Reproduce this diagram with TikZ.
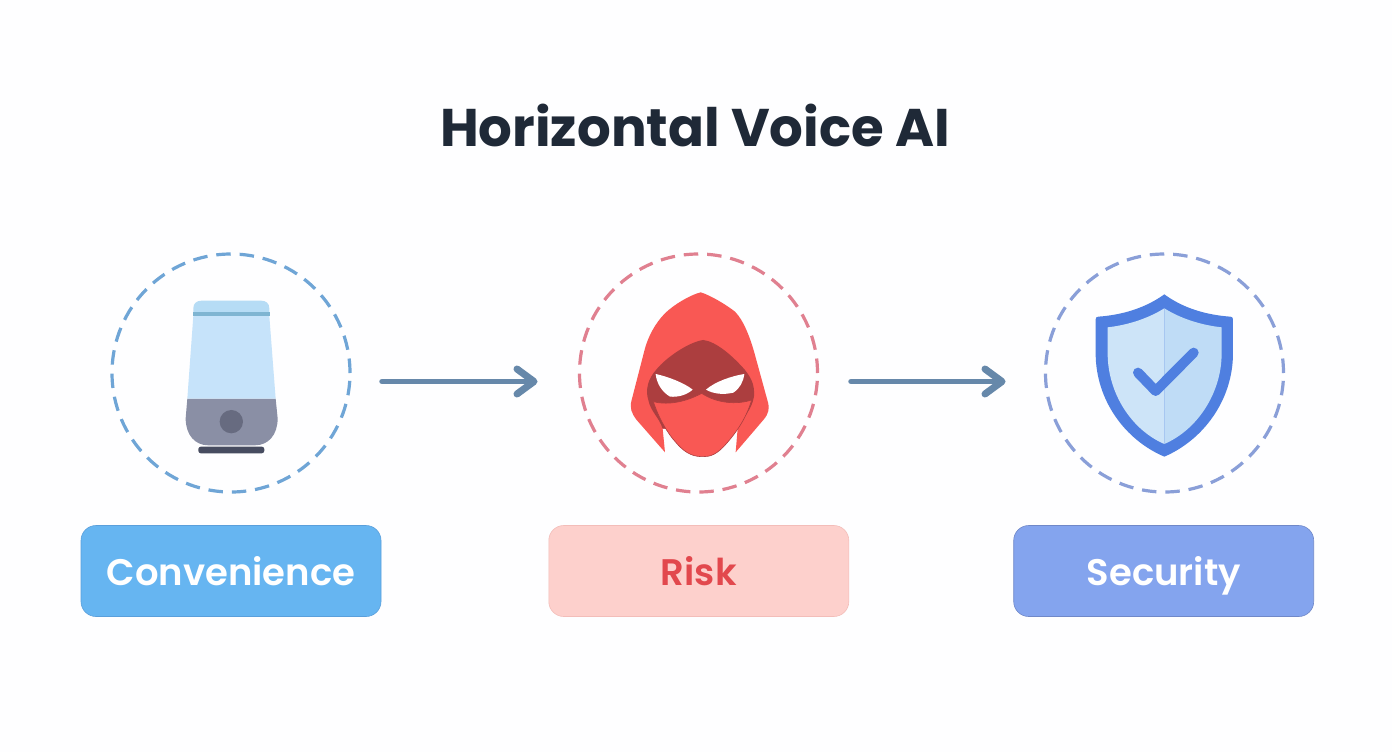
\documentclass[tikz,border=0pt]{standalone}
\usepackage{fontspec}
\setmainfont{Poppins}
\newfontfamily\tagfont{Poppins SemiBold}
\definecolor{inkdark}{HTML}{1F2937}
\definecolor{conv}{HTML}{66B5F1}
\definecolor{convline}{HTML}{6FA5D6}
\definecolor{convedge}{HTML}{5A9FDB}
\definecolor{riskbox}{HTML}{FDD0CC}
\definecolor{riskedge}{HTML}{F3BDB9}
\definecolor{risktext}{HTML}{E2484D}
\definecolor{riskline}{HTML}{E08090}
\definecolor{sec}{HTML}{84A4EE}
\definecolor{secedge}{HTML}{7088C8}
\definecolor{secline}{HTML}{8A9FD8}
\definecolor{arrowcol}{HTML}{6688AA}
\definecolor{hood}{HTML}{F95854}
\definecolor{hooddark}{HTML}{AC3E3F}
\definecolor{shield}{HTML}{4F7FE0}
\definecolor{shieldA}{HTML}{CDE4F8}
\definecolor{shieldB}{HTML}{BFDCF6}
\definecolor{glass}{HTML}{C6E3FA}
\definecolor{glasstop}{HTML}{B6DCF5}
\definecolor{band}{HTML}{7FB5D2}
\definecolor{grille}{HTML}{8A8FA5}
\definecolor{knob}{HTML}{676B80}
\definecolor{foot}{HTML}{474C60}
\tikzset{
  ring/.style={circle,draw=#1,line width=3.2pt,dash pattern=on 14.5pt off 8.9pt,minimum size=238pt,inner sep=0pt,outer sep=0pt},
  tag/.style={rounded corners=15pt,line width=0.6pt,minimum width=300pt,minimum height=91pt,inner sep=0pt,outer sep=0pt,text height=36pt,text depth=8pt,font=\tagfont\fontsize{37}{40}\selectfont},
  link/.style={arrowcol,line width=5.5pt,line cap=round,line join=round},
  linkhead/.style={arrowcol,line width=7pt,line cap=round,line join=round},
}
\begin{document}
\begin{tikzpicture}[x=1pt,y=-1pt]
\useasboundingbox (0,0) rectangle (1392,752);
\fill[white!60!blue!1!white] (0,0) rectangle (1392,752);

\node[text=inkdark,font=\bfseries\fontsize{53}{60}\selectfont] (title) at (695,125.5) {Horizontal Voice AI};

\node[ring=convline] (convring) at (231,373) {};
\node[ring=riskline] (riskring) at (698.5,373) {};
\node[ring=secline] (secring) at (1164.5,373) {};

\node[tag,fill=conv,draw=convedge,text=white] (convtag) at (231,571) {Convenience};
\node[tag,fill=riskbox,draw=riskedge,text=risktext] (risktag) at (698.8,571) {Risk};
\node[tag,fill=sec,draw=secedge,text=white] (sectag) at (1163.7,571) {Security};

% arrows
\coordinate (a1) at (382,381.5);
\coordinate (a2) at (534,381.5);
\coordinate (b1) at (851,381.5);
\coordinate (b2) at (1002,381.5);
\draw[link] (a1) -- (a2);
\draw[link] (b1) -- (b2);
\draw[linkhead] (517,369) -- (a2) -- (517,394);
\draw[linkhead] (985,369) -- (b2) -- (985,394);

% speaker
\begin{scope}[shift={(100,240)},x=0.3333pt,y=-0.3333pt]
\fill[foot,rounded corners=2.5pt] (295,620) rectangle (493,640);
\fill[grille] (262,476) -- (527,476) -- (533,535) .. controls (533,585) and (505,616) .. (465,616) -- (325,616) .. controls (285,616) and (257,585) .. (257,535) -- cycle;
\fill[glass] (280,228) -- (508,228) -- (527,476) -- (262,476) -- cycle;
\fill[glasstop] (280,216) -- (280,205) .. controls (280,190) and (290,182) .. (305,182) -- (483,182) .. controls (498,182) and (508,190) .. (508,205) -- (508,216) -- cycle;
\fill[band] (279,216) rectangle (509,228);
\fill[knob] (394,545) circle (35);
\end{scope}

% hood
\begin{scope}[shift={(570,240)},x=0.3333pt,y=-0.3333pt]
\fill[hood] (392,157) .. controls (360,165) and (310,195) .. (285,220) .. controls (255,250) and (235,290) .. (225,325) -- (185,480) .. controls (178,505) and (185,520) .. (200,540) -- (285,637) -- (278,566) -- (503,566) -- (497,637) -- (580,540) .. controls (597,520) and (600,505) .. (592,480) -- (555,345) .. controls (540,290) and (520,240) .. (495,215) .. controls (470,195) and (420,165) .. (392,157) -- cycle;
\fill[hooddark] (400,300) .. controls (360,305) and (290,350) .. (258,390) .. controls (235,415) and (225,450) .. (235,480) .. controls (242,515) and (266,530) .. (278,566) -- (503,566) .. controls (520,530) and (545,510) .. (552,470) .. controls (555,430) and (540,410) .. (525,390) .. controls (490,350) and (440,305) .. (400,300) -- cycle;
\filldraw[fill=hood,draw=hooddark,line width=0.6pt] (250,485) .. controls (285,495) and (340,490) .. (395,460) .. controls (440,490) and (500,495) .. (545,480) .. controls (530,530) and (505,570) .. (470,610) .. controls (440,645) and (420,650) .. (400,650) .. controls (375,650) and (350,645) .. (320,610) .. controls (290,578) and (265,530) .. (250,485) -- cycle;
\fill[white] (257,402) .. controls (295,410) and (345,430) .. (368,449) .. controls (350,465) and (325,472) .. (300,470) .. controls (275,455) and (260,430) .. (257,402) -- cycle;
\fill[white] (523,402) .. controls (485,408) and (435,425) .. (408,449) .. controls (430,462) and (460,465) .. (490,458) .. controls (510,445) and (520,425) .. (523,402) -- cycle;
\end{scope}

% shield
\begin{scope}[shift={(1035,240)},x=0.3333pt,y=-0.3333pt]
\fill[shield] (388,163) .. controls (330,205) and (260,225) .. (190,230) .. controls (185,230) and (182,233) .. (182,238) -- (182,340) .. controls (182,480) and (270,600) .. (388,650) .. controls (505,600) and (594,480) .. (594,340) -- (594,238) .. controls (594,233) and (591,230) .. (586,230) .. controls (515,225) and (445,205) .. (388,163) -- cycle;
\fill[shieldA] (388,205) .. controls (340,235) and (280,255) .. (218,262) -- (218,340) .. controls (218,460) and (290,570) .. (388,612) -- cycle;
\fill[shieldB] (388,205) .. controls (436,235) and (496,255) .. (560,262) -- (560,340) .. controls (560,460) and (486,570) .. (388,612) -- cycle;
\draw[shield,line width=10pt,line cap=round,line join=round] (309,398) -- (362,453) -- (476,338);
\end{scope}
\end{tikzpicture}
\end{document}
